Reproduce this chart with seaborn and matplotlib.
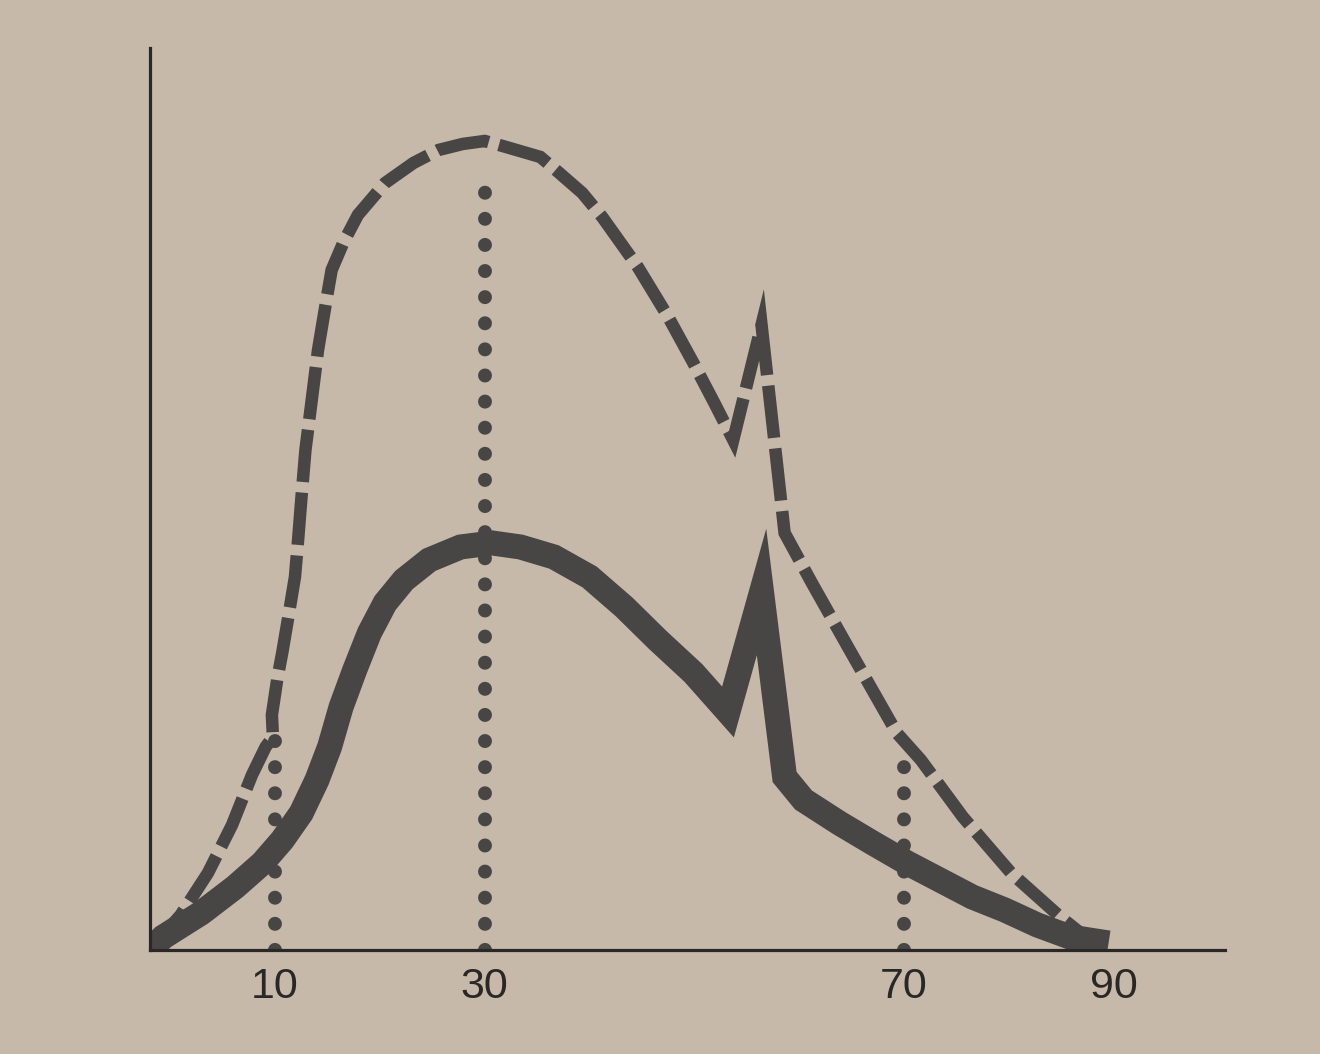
import numpy as np
import pandas as pd
import matplotlib
matplotlib.use("Agg")
import matplotlib.pyplot as plt
import seaborn as sns

# dashed (upper) curve
upper_x = [-1.93, 1.0, 3.6, 5.9, 7.8, 9.1, 9.8, 9.7, 10.2, 10.7, 11.3, 11.9, 12.2, 12.5,
           12.9, 13.5, 14.1, 14.9, 15.4, 16.5, 17.9, 20.5, 23.2, 25.6, 27.9, 30.0,
           31.7, 35.3, 37.0, 39.3, 41.2, 44.6, 47.5, 49.9, 51.9, 53.7, 56.4, 58.6,
           61.2, 64.8, 69.3, 71.6, 75.6, 80.2, 84.9, 86.7]
upper_y = [0, 3.5, 7.7, 12.5, 17.5, 20.3, 21.3, 23.5, 27, 29.8, 33.5, 37.3, 41, 45,
           50, 55, 60, 65, 68, 70.7, 73.5, 76.7, 78.7, 80, 80.6, 80.9,
           80.4, 79.3, 77.8, 75.7, 73.3, 68.3, 63.3, 58.7, 54.7, 51.0, 62.5, 41.7,
           36.7, 30.0, 21.7, 19.0, 13.3, 7.7, 3.3, 1.8]

# solid (lower) curve
lower_x = [-1.93, -0.66, 2.96, 6.2, 8.8, 10.7, 12.5, 14.0, 15.2, 16.3, 17.6, 19.0,
           20.5, 22.3, 24.7, 27.7, 30.7, 33.4, 36.6, 40.0, 43.3, 46.5, 49.9, 53.2,
           56.4, 58.6, 60.4, 63.8, 67.0, 70.3, 73.4, 76.5, 79.6, 82.7, 85.8, 89.5]
lower_y = [0, 1.3, 3.7, 6.3, 8.7, 11.0, 13.7, 17.0, 20.3, 24.3, 28.0, 31.7,
           34.7, 37.0, 39.0, 40.3, 40.7, 40.3, 39.3, 37.3, 34.3, 31.0, 27.7, 23.8,
           35.8, 17.3, 15.0, 12.7, 10.7, 8.7, 7.0, 5.3, 4.0, 2.5, 1.3, 0.7]

# dotted verticals: x position and height
drop_x = [10, 30, 70]
drop_top = [21, 78.3, 18.7]

tick_pos = [10, 30, 70, 90]
tick_labels = ["10", "30", "70", "90"]

bg = "#c6b9aa"
ink = "#474645"
axis_ink = "#2a2826"

sns.set_theme(style="white", rc={"figure.facecolor": bg, "axes.facecolor": bg})
plt.rcParams["font.family"] = ["Liberation Sans", "DejaVu Sans"]

fig = plt.figure(figsize=(13.2, 10.54), dpi=100)
ax = fig.add_axes([0.1136, 0.0987, 0.8144, 0.8558])

upper = pd.DataFrame({"x": upper_x, "y": upper_y})
lower = pd.DataFrame({"x": lower_x, "y": lower_y})

sns.lineplot(data=upper, x="x", y="y", sort=False, estimator=None, ax=ax,
             color=ink, lw=9, linestyle=(0, (4.2, 0.85)), dash_capstyle="butt",
             dash_joinstyle="miter")
sns.lineplot(data=lower, x="x", y="y", sort=False, estimator=None, ax=ax,
             color=ink, lw=18, solid_joinstyle="miter", solid_capstyle="butt")

# dotted drop lines
for xv, top in zip(drop_x, drop_top):
    ax.plot([xv, xv], [0, top], color=ink, lw=10, linestyle=(0, (0.01, 1.87)),
            dash_capstyle="round")

ax.set_xlim(-1.93, 100.6)
ax.set_ylim(0, 90.2)
ax.set_xticks(tick_pos)
ax.set_xticklabels(tick_labels)
ax.set_yticks([])
ax.tick_params(axis="x", length=0, pad=12, labelsize=31, labelcolor=axis_ink)
ax.set_xlabel("")
ax.set_ylabel("")

for side in ["top", "right"]:
    ax.spines[side].set_visible(False)
for side in ["left", "bottom"]:
    ax.spines[side].set_color(axis_ink)
    ax.spines[side].set_linewidth(2.3)
    ax.spines[side].set_zorder(5)

fig.savefig("out.png", dpi=100, facecolor=bg)
